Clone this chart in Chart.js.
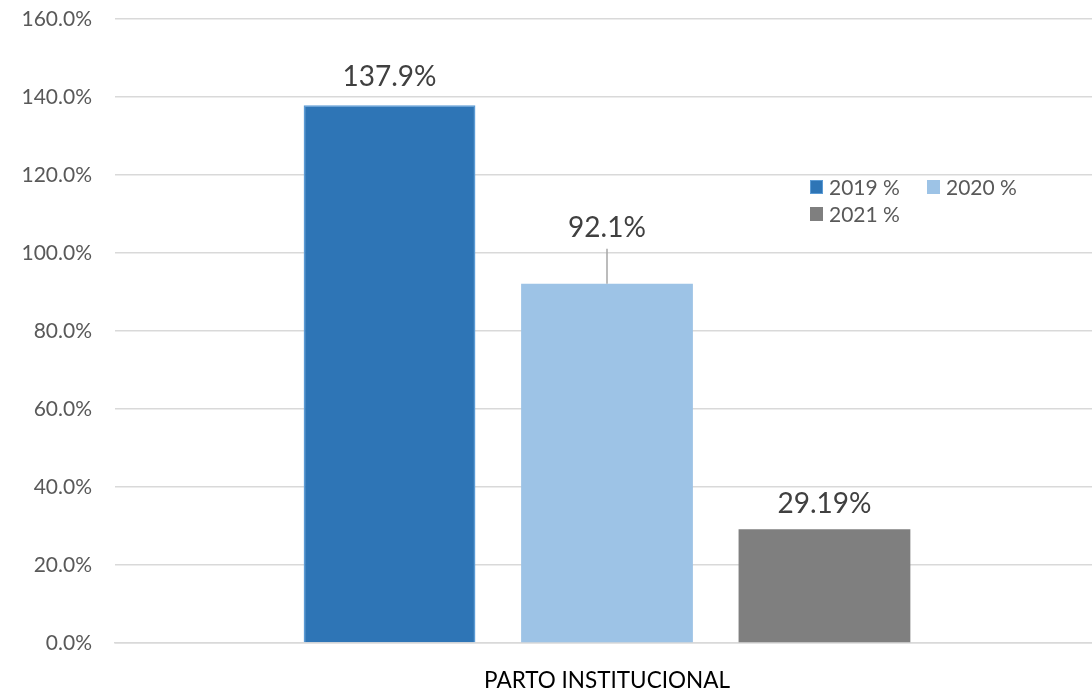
<!DOCTYPE html>
<html>
<head>
<meta charset="utf-8">
<script src="https://cdn.jsdelivr.net/npm/chart.js@4.4.1/dist/chart.umd.min.js"></script>
<style>
  html, body { margin: 0; padding: 0; background: #fff; overflow: hidden; }
  #wrap { width: 1100px; height: 690px; }
</style>
</head>
<body>
<div id="wrap"><canvas id="chart"></canvas></div>
<script>
/* === Data === */
const categories = ["PARTO INSTITUCIONAL"];
const seriesNames = ["2019 %", "2020 %", "2021 %"];
const values2019 = [137.9];
const values2020 = [92.1];
const values2021 = [29.19];
const valueLabels = ["137.9%", "92.1%", "29.19%"];
const yTicks = [0, 20, 40, 60, 80, 100, 120, 140, 160];

/* === Styles === */
const COLORS  = ["#2e75b6", "#9dc3e6", "#7f7f7f"];
const BORDERS = ["#5b9bd5", "#9dc3e6", "#7f7f7f"];
const FONT = "Lato, 'Open Sans', sans-serif";
const LIFT = [28, 56, 25];         // label centre above bar top
const LEADER = [false, true, false];

/* === Plugin: value labels + legend === */
const decorations = {
  id: 'decorations',
  afterDatasetsDraw(chart) {
    const c = chart.ctx;
    c.save();
    c.font = "28px " + FONT;
    c.fillStyle = "#404040";
    c.textAlign = "center";
    c.textBaseline = "middle";
    chart.data.datasets.forEach((ds, i) => {
      const bar = chart.getDatasetMeta(i).data[0];
      const y = bar.y - LIFT[i];
      c.fillText(valueLabels[i], bar.x, y);
      if (LEADER[i]) {
        c.strokeStyle = "#a6a6a6";
        c.lineWidth = 1.5;
        c.beginPath();
        c.moveTo(bar.x, y + 21);
        c.lineTo(bar.x, bar.y);
        c.stroke();
      }
    });

    // legend
    const pos = [[810, 187], [927, 187], [810, 214]];
    c.font = "21px " + FONT;
    c.textAlign = "left";
    chart.data.datasets.forEach((ds, i) => {
      const [x, y] = pos[i];
      c.fillStyle = ds.backgroundColor;
      c.fillRect(x, y - 7, 13, 14);
      if (i === 0) {
        c.strokeStyle = BORDERS[0];
        c.lineWidth = 1;
        c.strokeRect(x + 0.5, y - 6.5, 12, 13);
      }
      c.fillStyle = "#595959";
      c.fillText(ds.label, x + 19, y + 1);
    });
    c.restore();
  }
};

/* === Chart === */
const datasets = [values2019, values2020, values2021].map((vals, i) => ({
  label: seriesNames[i],
  data: vals,
  backgroundColor: COLORS[i],
  borderColor: BORDERS[i],
  borderWidth: i === 0 ? 1.5 : 0,
  categoryPercentage: 0.663,
  barPercentage: 0.79
}));

new Chart(document.getElementById('chart'), {
  type: 'bar',
  data: { labels: categories, datasets },
  plugins: [decorations],
  options: {
    responsive: true,
    maintainAspectRatio: false,
    animation: false,
    layout: { padding: { top: 19, right: 1, left: 0, bottom: 0 } },
    plugins: { legend: { display: false }, tooltip: { enabled: false } },
    scales: {
      x: {
        grid: { display: false },
        border: { color: "#d9d9d9", width: 1.5 },
        ticks: { color: "#000", font: { family: FONT, size: 22.5 }, padding: 16 },
        afterFit: s => { s.height = 47; }
      },
      y: {
        min: 0,
        max: 160,
        afterBuildTicks: s => { s.ticks = yTicks.map(v => ({ value: v })); },
        grid: { color: "#d9d9d9", lineWidth: 1.5, drawTicks: false },
        border: { display: false },
        ticks: {
          color: "#595959",
          font: { family: FONT, size: 21 },
          padding: 23,
          callback: v => v.toFixed(1) + "%"
        },
        afterFit: s => { s.width = 115; s.paddingTop = 0; s.paddingBottom = 0; }
      }
    }
  }
});
</script>
</body>
</html>
